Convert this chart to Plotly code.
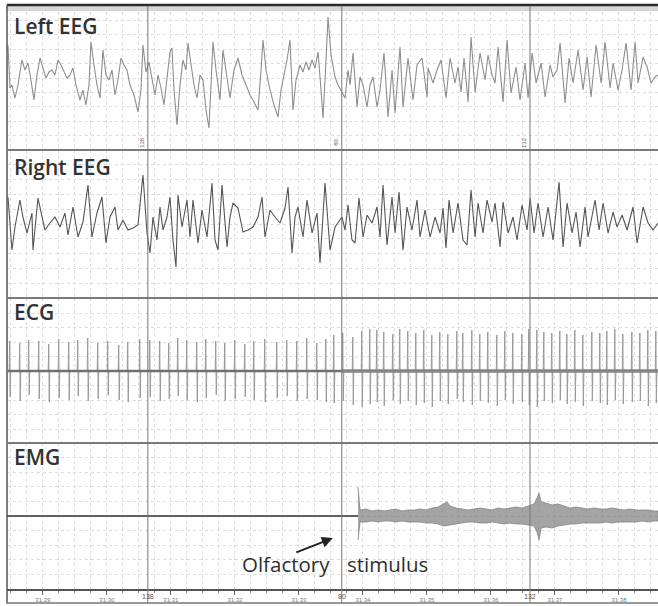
import plotly.graph_objects as go
from plotly.subplots import make_subplots

# ---------------- data ----------------
FS = 64.0
T0 = 28.33         # time (s after 31:00) of sample index 0
T_START, T_END = 28.44, 38.61   # recording window shown

SECONDS = [29, 30, 31, 32, 33, 34, 35, 36, 37, 38]
SECOND_LABELS = ["31:29", "31:30", "31:31", "31:32", "31:33",
                 "31:34", "31:35", "31:36", "31:37", "31:38"]
MARKER_TIMES = [30.64, 33.67, 36.61]
MARKER_LABELS = ["138", "80", "132"]
STIM_T = 33.67

# Left EEG: sample index, amplitude (a.u.)
left_n = [8, 10, 12, 15, 18, 22, 25, 28, 31, 34, 37, 40, 43, 46, 49, 52, 55, 58, 61, 64,
          67, 70, 73, 76, 80, 83, 86, 89, 91, 94, 97, 100, 103, 106, 109, 112, 115, 118, 121, 124,
          127, 130, 134, 138, 141, 143, 146, 149, 152, 155, 158, 161, 164, 167, 170, 172, 174, 177, 180, 183,
          186, 188, 191, 194, 197, 200, 203, 206, 209, 211, 213, 216, 220, 223, 227, 230, 234, 238, 242, 246,
          250, 253, 258, 261, 263, 266, 270, 274, 278, 281, 284, 287, 290, 293, 296, 300, 303, 306, 309, 312,
          315, 318, 321, 323, 326, 328, 331, 335, 338, 342, 345, 348, 350, 353, 357, 360, 363, 367, 370, 373,
          377, 380, 384, 388, 392, 395, 400, 403, 408, 413, 417, 422, 425, 427, 428, 433, 437, 441, 446, 450,
          455, 458, 461, 464, 468, 471, 475, 480, 485, 488, 492, 495, 498, 503, 507, 511, 516, 520, 525, 528,
          532, 536, 541, 545, 550, 553, 557, 560, 565, 569, 573, 578, 583, 587, 591, 596, 601, 605, 610, 613,
          618, 622, 626, 631, 635, 638, 643, 647, 651, 655, 658]
left_v = [33, -10, -7, -20, -7, 18, 8, 15, -2, -22, 3, 20, 10, 0, 6, 8, 3, 18, 13, 6,
          0, 3, 10, -7, -22, -12, -27, -7, 36, 13, -7, -20, 28, 3, -2, 8, -17, -2, 20, 13,
          8, -7, -17, -34, -12, 33, 6, 16, -2, -17, 3, -10, -27, -2, 26, 30, -12, -47, -7, 18,
          8, 35, 13, -7, -20, 3, -2, -32, -50, -2, 36, 8, -22, 28, -2, -20, 8, 20, 3, -7,
          -17, -22, -32, 8, 38, 8, -12, -27, -39, -12, 3, 18, 38, -32, -2, 13, 6, 16, 8, 18,
          10, 26, -12, -40, 18, 61, 23, 1, -7, -15, -20, 8, -7, 25, -29, 1, -7, -29, -7, 1,
          -29, -12, 25, -39, 8, -35, 31, -29, 20, -22, 13, 20, -2, -19, 10, -5, 8, 18, -20, 20,
          -5, 11, -14, 20, -24, 41, -14, 25, -2, 23, 3, -5, 31, -24, 38, -15, 11, -22, 15, -20,
          25, -5, 15, -19, 13, 1, 8, 35, -25, 20, -5, 28, -12, 21, -19, 33, -5, 36, -10, 15,
          -12, 8, 35, -12, 36, -5, 21, 11, -5, 1, 3]

# Right EEG: sample index, amplitude (a.u.)
right_n = [8, 12, 15, 20, 23, 27, 32, 33, 38, 42, 45, 50, 55, 60, 65, 68, 73, 78, 83, 88,
           92, 97, 102, 106, 110, 115, 118, 123, 128, 133, 138, 143, 147, 150, 153, 157, 160, 163, 167, 170,
           173, 176, 178, 182, 187, 190, 193, 198, 202, 207, 212, 215, 218, 222, 227, 230, 233, 238, 243, 248,
           253, 258, 262, 265, 270, 275, 280, 285, 288, 292, 295, 298, 303, 307, 312, 317, 320, 325, 330, 335,
           342, 345, 348, 352, 355, 359, 363, 367, 372, 377, 380, 383, 387, 392, 395, 399, 403, 407, 412, 417,
           420, 425, 430, 435, 440, 443, 446, 449, 453, 458, 463, 467, 471, 475, 478, 483, 487, 492, 495, 500,
           503, 508, 513, 517, 522, 527, 530, 534, 538, 543, 548, 553, 559, 563, 567, 572, 576, 580, 585, 588,
           595, 599, 603, 608, 613, 617, 622, 627, 633, 637, 643, 648, 653, 658]
right_v = [27, -26, -3, 24, 7, -9, 11, -26, 26, 7, -6, 1, 7, -3, 11, -11, 17, -13, 2, 39,
           -13, 11, 27, -19, 7, 17, -6, 4, -6, -4, -1, 49, -9, -29, 7, -16, 17, -6, 7, 27,
           -16, -43, 29, -3, 24, -13, 24, -19, 14, -13, 41, -16, -26, 39, -23, 7, 21, 16, -8, -6,
           -3, 7, 27, -13, 14, 7, 1, 16, 37, -29, 7, 17, -13, 24, -9, 11, -39, 41, -26, -3,
           7, -6, 19, -16, -19, 26, -13, 9, 1, 17, -13, 39, -21, 27, -9, 32, -26, 17, -6, 24,
           -13, 14, -13, 7, -9, 16, -24, 24, -9, 21, -16, -21, 34, -13, 21, -9, 24, 2, 21, -23,
           22, -9, 7, -16, 19, -6, 26, -9, 21, -13, 17, -16, 42, -23, 21, -9, 12, -23, 17, -13,
           24, -6, 21, -9, 12, -3, 9, -6, 17, -19, 17, 1, -6, 1]

# ECG: beat sample index, R peak height, S trough depth (a.u.)
ecg_n = [10, 20, 29, 39, 49, 59, 69, 78, 88, 98, 108, 119, 128, 140, 150, 160, 169, 178, 187, 197,
         206, 216, 225, 235, 245, 254, 265, 277, 287, 297, 307, 317, 326,
         334, 343, 353, 362, 370, 377, 384, 393, 400, 408, 416, 424, 432, 440, 448, 457, 463, 472,
         480, 488, 497, 505, 513, 522, 529, 537, 544, 552, 560, 567, 575, 583, 592, 600, 607, 615,
         623, 632, 640, 648, 656]
ecg_up = [30, 28, 31, 30, 27, 32, 29, 31, 33, 28, 30, 26, 29, 32, 31, 30, 28, 33, 31, 29,
          32, 30, 28, 31, 27, 30, 32, 29, 31, 30, 33, 28, 32,
          36, 38, 34, 40, 42, 41, 39, 37, 42, 40, 38, 41, 36, 39, 37, 40, 38, 41, 37, 39,
          36, 40, 38, 37, 42, 41, 39, 38, 40, 37, 41, 36, 39, 38, 40, 42, 37, 39, 38, 41, 40]
ecg_down = [26, 30, 24, 28, 31, 27, 29, 25, 30, 28, 24, 29, 31, 27, 26, 30, 28, 25, 29, 31,
            27, 24, 30, 28, 26, 29, 31, 27, 25, 30, 28, 29, 31,
            32, 30, 34, 36, 33, 31, 35, 29, 33, 30, 34, 32, 36, 30, 33, 28, 31, 34, 30, 32,
            35, 29, 33, 31, 34, 36, 30, 32, 29, 33, 31, 35, 30, 32, 34, 29, 33, 31, 30, 35, 32]

# EMG: envelope after the stimulus (sample index, upper, lower amplitude)
emg_n = [358, 360, 366, 372, 378, 384, 390, 396, 402, 408, 414, 420, 426, 432, 438, 444, 447, 450, 456, 462,
         468, 474, 480, 486, 492, 498, 504, 510, 516, 522, 528, 534, 537, 539, 541, 546, 552, 558, 564, 570,
         576, 582, 588, 594, 600, 606, 612, 618, 624, 630, 636, 642, 648, 654, 658]
emg_up = [29, 6, 7, 5, 6, 5, 6, 7, 5, 6, 6, 7, 6, 8, 9, 12, 14, 10, 8, 7,
          6, 7, 8, 7, 6, 8, 7, 8, 9, 8, 10, 12, 18, 23, 14, 13, 11, 12, 10, 8,
          9, 8, 7, 8, 7, 7, 8, 7, 6, 7, 6, 6, 6, 5, 5]
emg_down = [24, 6, 6, 5, 6, 5, 5, 6, 5, 6, 6, 6, 7, 7, 8, 10, 9, 9, 8, 7,
            6, 6, 7, 7, 6, 7, 8, 7, 8, 8, 9, 10, 16, 24, 12, 11, 12, 10, 9, 8,
            8, 7, 7, 7, 7, 6, 7, 6, 6, 6, 6, 5, 6, 5, 5]

PANELS = ["Left EEG", "Right EEG", "ECG", "EMG"]


def t_of(n):
    return [T0 + k / FS for k in n]


# ---------------- figure ----------------
fig = make_subplots(rows=4, cols=1, shared_xaxes=True, vertical_spacing=0)

fig.add_trace(go.Scatter(x=t_of(left_n), y=left_v, mode="lines",
                         line=dict(color="#8e8e8e", width=1.1)), row=1, col=1)
fig.add_trace(go.Scatter(x=t_of(right_n), y=right_v, mode="lines",
                         line=dict(color="#555555", width=1.1)), row=2, col=1)

# ECG spikes
ex, ey = [T_START], [0]
for n, u, d in zip(ecg_n, ecg_up, ecg_down):
    ex += t_of([n - 0.8, n - 0.25, n + 0.25, n + 0.8])
    ey += [0, u, -d, 0]
ex.append(T_END)
ey.append(0)
fig.add_trace(go.Scatter(x=ex, y=ey, mode="lines",
                         line=dict(color="#999999", width=1)), row=3, col=1)

# EMG
emg_t = t_of(emg_n)
fig.add_trace(go.Scatter(x=[T_START, emg_t[0]], y=[0, 0], mode="lines",
                         line=dict(color="#606060", width=2)), row=4, col=1)
fig.add_trace(go.Scatter(x=emg_t + emg_t[::-1],
                         y=emg_up + [-d for d in emg_down[::-1]],
                         mode="lines", fill="toself", fillcolor="rgba(125,125,125,0.7)",
                         line=dict(color="#858585", width=0.8)), row=4, col=1)

GRID = "#dcdcdc"
domains = [[0.753, 1.0], [0.4991, 0.753], [0.2504, 0.4991], [0.0, 0.2504]]
yranges = [[-72, 72], [-74, 74], [-72, 73], [-73, 73]]
for i in range(4):
    ya = "yaxis" if i == 0 else f"yaxis{i + 1}"
    xa = "xaxis" if i == 0 else f"xaxis{i + 1}"
    span = yranges[i][1] - yranges[i][0]
    fig.layout[ya].update(domain=domains[i], range=yranges[i], showticklabels=False,
                          ticks="", zeroline=False, showgrid=True, gridcolor=GRID,
                          griddash="dot", gridwidth=1, tick0=0, dtick=span / 10,
                          fixedrange=True)
    fig.layout[xa].update(range=[T_START, T_END], showgrid=True, gridcolor=GRID,
                          griddash="dot", tickvals=SECONDS, zeroline=False,
                          minor=dict(dtick=0.25, tick0=29, showgrid=True, gridcolor=GRID,
                                     griddash="dot"),
                          showticklabels=False, ticks="")

fig.layout.xaxis4.update(showticklabels=True, ticktext=SECOND_LABELS, ticks="outside",
                         ticklen=4, tickcolor="#666", tickwidth=1,
                         tickfont=dict(size=6, color="#7a7a7a", family="Liberation Sans"),
                         minor=dict(dtick=0.25, tick0=29, showgrid=True, gridcolor=GRID,
                                    griddash="dot", ticks="outside", ticklen=2,
                                    tickcolor="#888"),
                         showline=True, linecolor="#555", linewidth=1.5)

shapes = []
shapes.append(dict(type="rect", xref="paper", yref="paper", x0=0, x1=1, y0=0.9914, y1=1.0,
                   fillcolor="#d6d6d6", line=dict(width=0), layer="below"))
shapes.append(dict(type="line", xref="paper", yref="paper", x0=0, x1=1, y0=1.0017, y1=1.0017,
                   line=dict(color="#2b2b2b", width=2.5)))
shapes.append(dict(type="line", xref="paper", yref="paper", x0=0, x1=0, y0=-0.025, y1=1.0017,
                   line=dict(color="#555", width=1.5)))
shapes.append(dict(type="line", xref="paper", yref="paper", x0=0, x1=1, y0=-0.024, y1=-0.024,
                   line=dict(color="#777", width=1.5)))
for d in domains[:3]:
    shapes.append(dict(type="line", xref="paper", yref="paper", x0=0, x1=1, y0=d[0], y1=d[0],
                       line=dict(color="#7a7a7a", width=2)))
for mt in MARKER_TIMES:
    shapes.append(dict(type="line", xref="x", yref="paper", x0=mt, x1=mt, y0=-0.024, y1=1.0,
                       line=dict(color="#777777", width=1)))
# ECG baseline thickness before / after stimulus
shapes.append(dict(type="line", xref="x3", yref="y3", x0=T_START, x1=STIM_T, y0=0, y1=0,
                   line=dict(color="#707070", width=2.5)))
shapes.append(dict(type="line", xref="x3", yref="y3", x0=STIM_T, x1=T_END, y0=0, y1=0,
                   line=dict(color="#858585", width=3.5)))
fig.update_layout(shapes=shapes)

ann = []
label_y = [26, 167, 312, 457]
for name, py in zip(PANELS, label_y):
    ann.append(dict(text=name, xref="paper", yref="paper", x=(12 - 7) / 651,
                    y=(589 - py) / 583, xanchor="left", yanchor="middle", showarrow=False,
                    font=dict(family="Open Sans", size=21, color="#333", weight=600)))
ann.append(dict(text="Olfactory", xref="paper", yref="paper", x=(332 - 7) / 651,
                y=(589 - 564) / 583, xanchor="right", yanchor="middle", showarrow=False,
                font=dict(family="Open Sans", size=20.5, color="#2e2e2e", weight=500)))
ann.append(dict(text="stimulus", xref="paper", yref="paper", x=(345 - 7) / 651,
                y=(589 - 564) / 583, xanchor="left", yanchor="middle", showarrow=False,
                font=dict(family="Open Sans", size=20.5, color="#2e2e2e", weight=500)))
ann.append(dict(text="", xref="x4", yref="y4", x=STIM_T - 0.14, y=-22, ax=-38, ay=15,
                showarrow=True, arrowhead=2, arrowsize=1.1, arrowwidth=2, arrowcolor="#222"))
for mt, lab in zip(MARKER_TIMES, MARKER_LABELS):
    ann.append(dict(text=lab, xref="x4", yref="paper", x=mt, y=-0.0135, showarrow=False,
                    xanchor="center", yanchor="middle",
                    font=dict(size=7, color="#555", family="Liberation Sans")))
    ann.append(dict(text=lab, xref="x", yref="y", x=mt, y=-64, showarrow=False,
                    textangle=-90, xanchor="right", yanchor="middle", xshift=-1,
                    font=dict(size=6, color="#666", family="Liberation Sans")))
fig.update_layout(annotations=ann)

fig.update_layout(width=658, height=606, margin=dict(l=7, r=0, t=6, b=17),
                  paper_bgcolor="white", plot_bgcolor="white", showlegend=False)

fig.write_html("out.html")
